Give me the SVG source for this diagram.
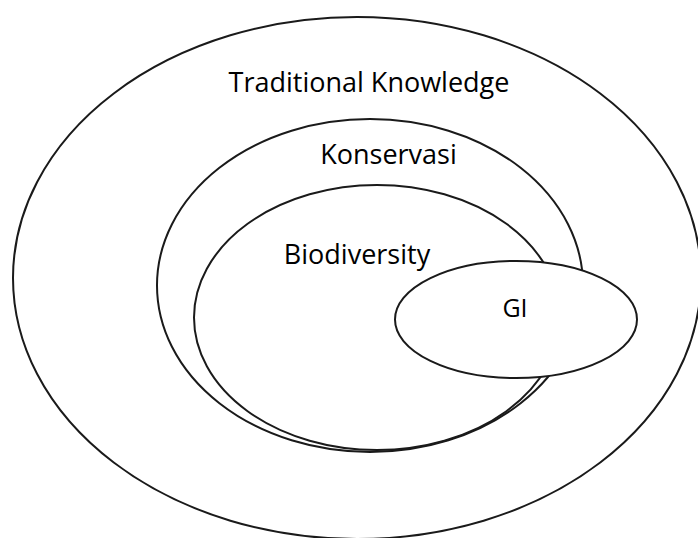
<svg xmlns="http://www.w3.org/2000/svg" width="698" height="538" viewBox="0 0 698 538">
<style>
.e{fill:none;stroke:#1a1a1a;stroke-width:2}
.w{fill:#fff;stroke:#1a1a1a;stroke-width:2}
text{font-family:"Open Sans","Noto Sans","Liberation Sans",sans-serif;fill:#000;text-anchor:middle}
</style>
<rect width="698" height="538" fill="#fff"/>
<g id="traditional-knowledge">
<ellipse class="e" cx="357" cy="278" rx="344" ry="261"/>
<text x="369" y="92" font-size="27">Traditional Knowledge</text>
</g>
<g id="konservasi">
<ellipse class="e" cx="370" cy="285.5" rx="213" ry="166.5"/>
<text x="388.5" y="164" font-size="27">Konservasi</text>
</g>
<g id="biodiversity">
<ellipse class="e" cx="377" cy="317.5" rx="183" ry="132.5"/>
<text x="357" y="264" font-size="27">Biodiversity</text>
</g>
<g id="gi">
<ellipse class="w" cx="516" cy="319.5" rx="121" ry="58.5"/>
<text x="515" y="317" font-size="25">GI</text>
</g>
<g id="connectors"/>
</svg>
